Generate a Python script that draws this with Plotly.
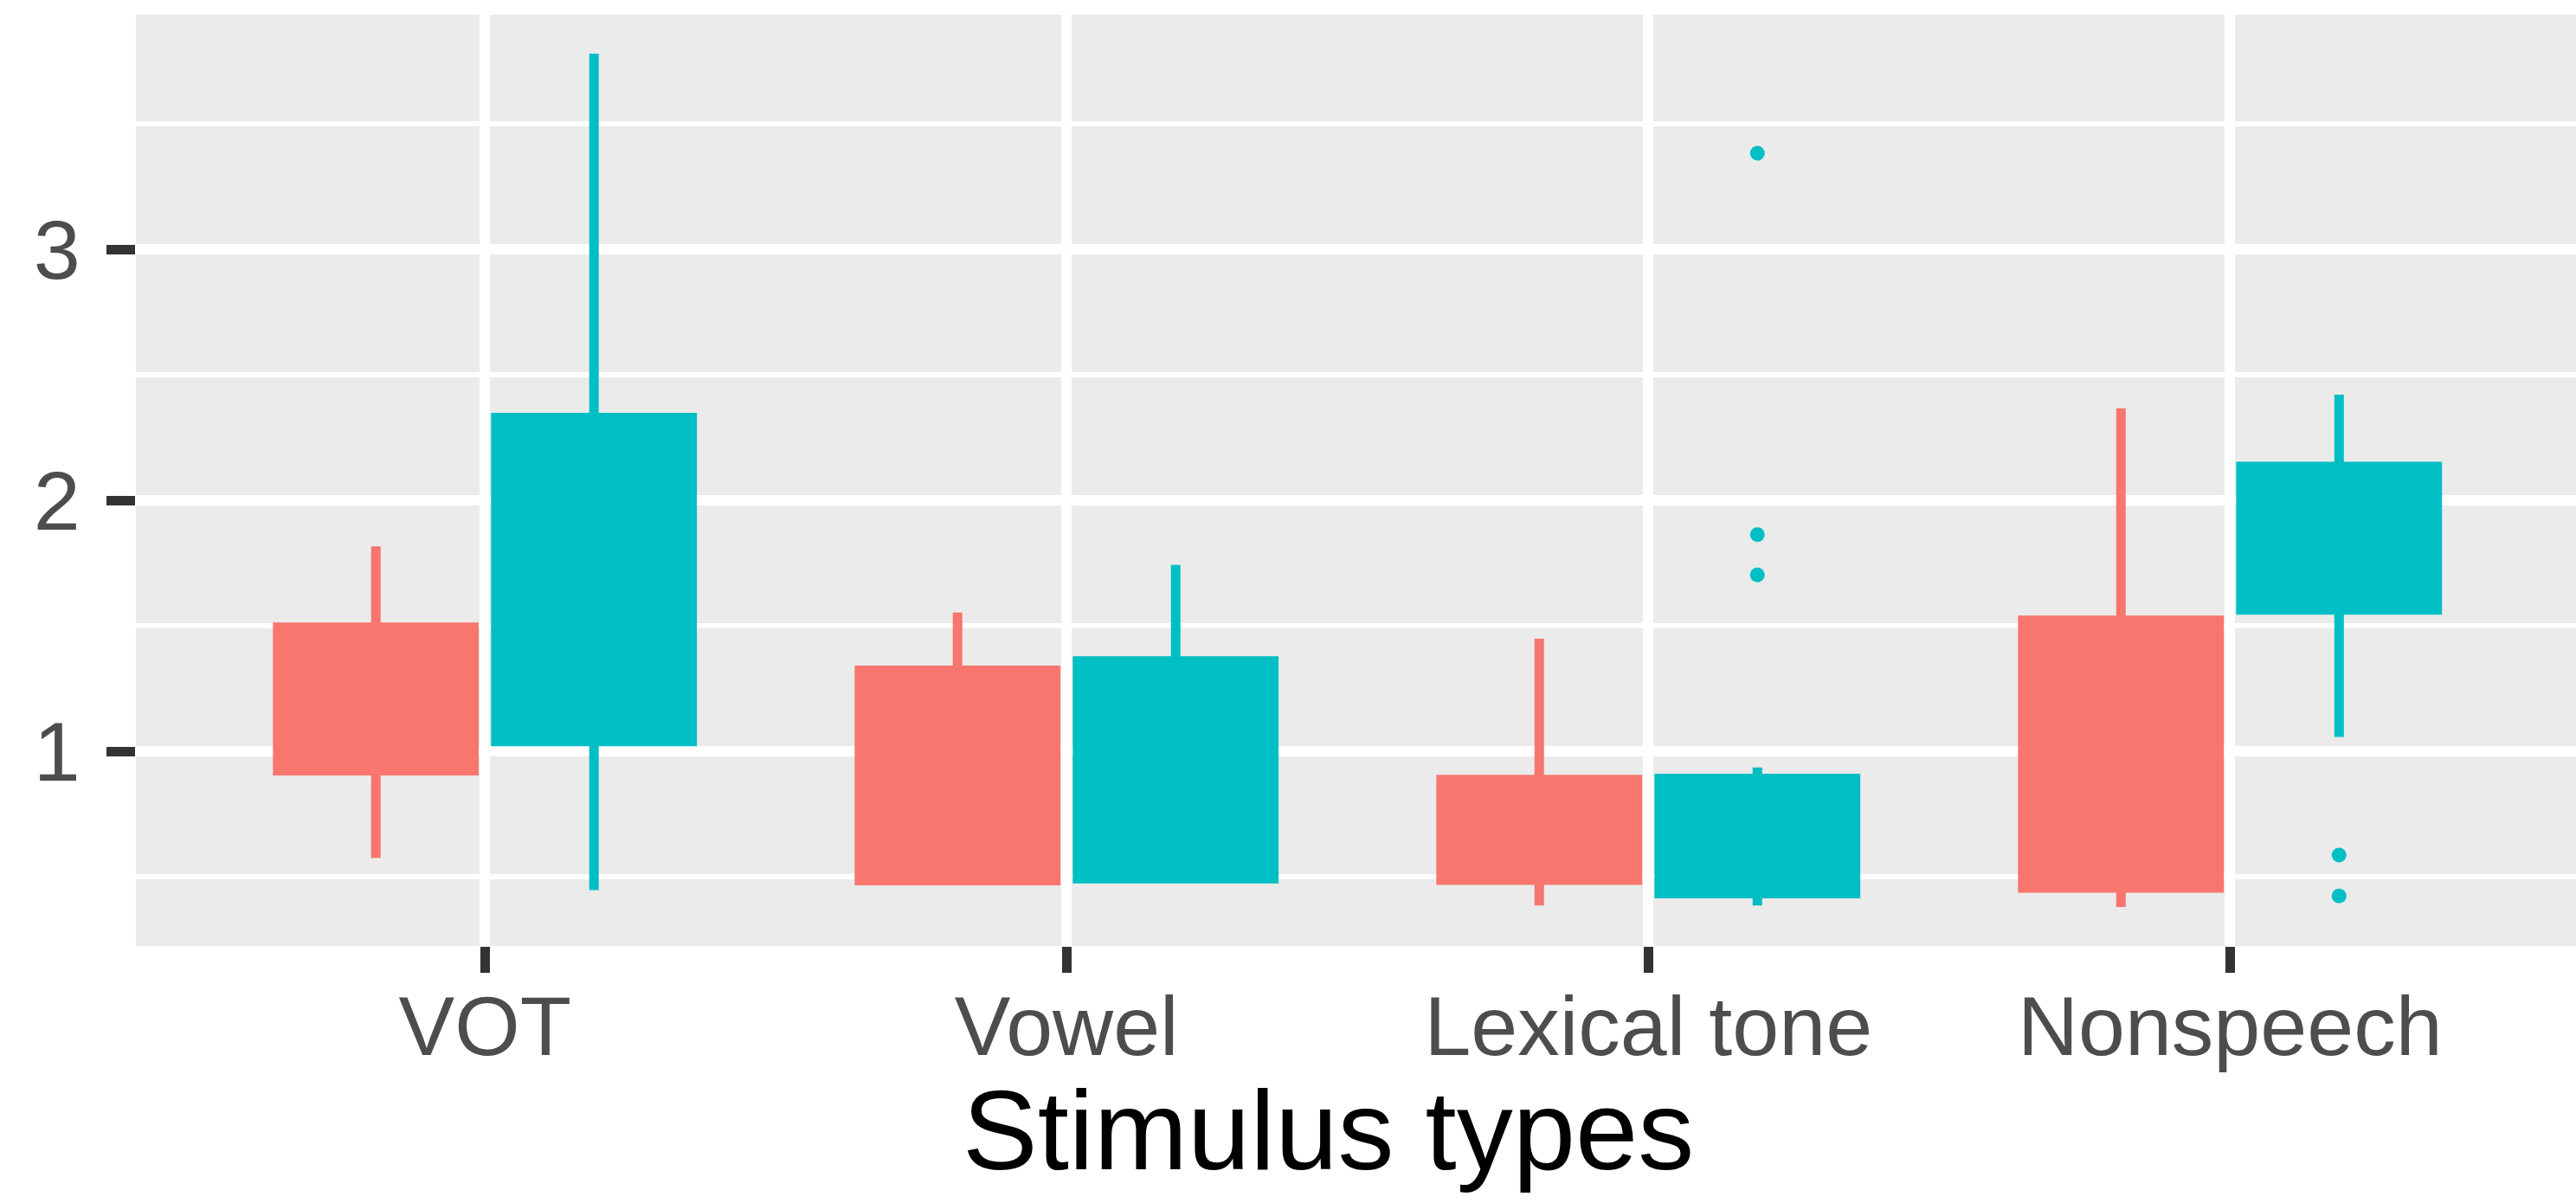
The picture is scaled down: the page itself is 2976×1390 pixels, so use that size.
import plotly.graph_objects as go

# Stimulus categories on the x axis
categories = ["VOT", "Vowel", "Lexical tone", "Nonspeech"]
x_title = "Stimulus types"

# Box statistics per category, group 1 (red)
g1_lower = [0.576, 0.485, 0.386, 0.380]
g1_q1 = [0.923, 0.485, 0.487, 0.456]
g1_median = [1.20, 0.85, 0.62, 0.90]
g1_q3 = [1.495, 1.323, 0.888, 1.522]
g1_upper = [1.817, 1.553, 1.449, 2.367]

# Box statistics per category, group 2 (teal)
g2_lower = [0.447, 0.493, 0.386, 1.058]
g2_q1 = [1.040, 0.493, 0.434, 1.564]
g2_median = [1.70, 0.90, 0.62, 1.90]
g2_q3 = [2.330, 1.360, 0.892, 2.135]
g2_upper = [3.780, 1.743, 0.936, 2.421]

# Outlying observations of group 2 (category index, value)
g2_out_cat = [2, 2, 2, 3, 3]
g2_out_val = [3.383, 1.864, 1.703, 0.587, 0.424]

# y tick values
y_ticks = [1, 2, 3]

RED = "#F8766D"
TEAL = "#00BFC4"
BOX_GAP = 0.25
BOX_GROUP_GAP = 0.1
N_GROUPS = 2
# centre offset of each dodged box inside a category slot
half_slot = (1 - BOX_GAP) / 2
dodge = [-half_slot + half_slot * (2 * i + 1) / N_GROUPS for i in range(N_GROUPS)]

LINE_W = 11
FONT = "Liberation Sans, Arial, sans-serif"
positions = list(range(len(categories)))

fig = go.Figure()
for name, col, lo, q1, med, q3, hi in [
    ("Group 1", RED, g1_lower, g1_q1, g1_median, g1_q3, g1_upper),
    ("Group 2", TEAL, g2_lower, g2_q1, g2_median, g2_q3, g2_upper),
]:
    fig.add_trace(go.Box(
        name=name,
        x=positions,
        offsetgroup=name,
        q1=q1, median=med, q3=q3, lowerfence=lo, upperfence=hi,
        fillcolor=col,
        line=dict(color=col, width=LINE_W),
        whiskerwidth=0,
        boxpoints=False,
        showlegend=False,
    ))

fig.add_trace(go.Scatter(
    x=[c + dodge[1] for c in g2_out_cat],
    y=g2_out_val,
    mode="markers",
    marker=dict(color=TEAL, size=17, line=dict(width=0)),
    showlegend=False,
    name="Group 2",
))

tick_font = dict(family=FONT, size=97, color="#4D4D4D")

fig.update_layout(
    width=2976,
    height=1390,
    margin=dict(l=157, r=0, t=17, b=297),
    paper_bgcolor="white",
    plot_bgcolor="#EBEBEB",
    boxmode="group",
    boxgap=BOX_GAP,
    boxgroupgap=BOX_GROUP_GAP,
    font=dict(family=FONT),
)

# x-axis title, set as a paper-anchored label below the tick labels
fig.add_annotation(
    text=x_title,
    xref="paper", yref="paper",
    x=0.4888, y=-0.198,
    xanchor="center", yanchor="middle",
    showarrow=False,
    font=dict(family=FONT, size=130, color="black"),
)

fig.update_xaxes(
    range=[-0.6, 3.5948],
    tickmode="array",
    tickvals=positions,
    ticktext=categories,
    tickfont=tick_font,
    ticks="outside",
    ticklen=30,
    tickwidth=11,
    tickcolor="#333333",
    ticklabelstandoff=-21,
    showgrid=True,
    gridcolor="white",
    gridwidth=12,
    zeroline=False,
    showline=False,
)

fig.update_yaxes(
    range=[0.225, 3.935],
    tickmode="array",
    tickvals=y_ticks,
    tickfont=tick_font,
    ticks="outside",
    ticklen=33,
    tickwidth=11,
    tickcolor="#333333",
    ticklabelstandoff=11,
    showgrid=True,
    gridcolor="white",
    gridwidth=12,
    minor=dict(tickvals=[0.5, 1.5, 2.5, 3.5], showgrid=True, gridcolor="white",
               gridwidth=6, ticks=""),
    zeroline=False,
    showline=False,
)

fig.write_html("out.html")
